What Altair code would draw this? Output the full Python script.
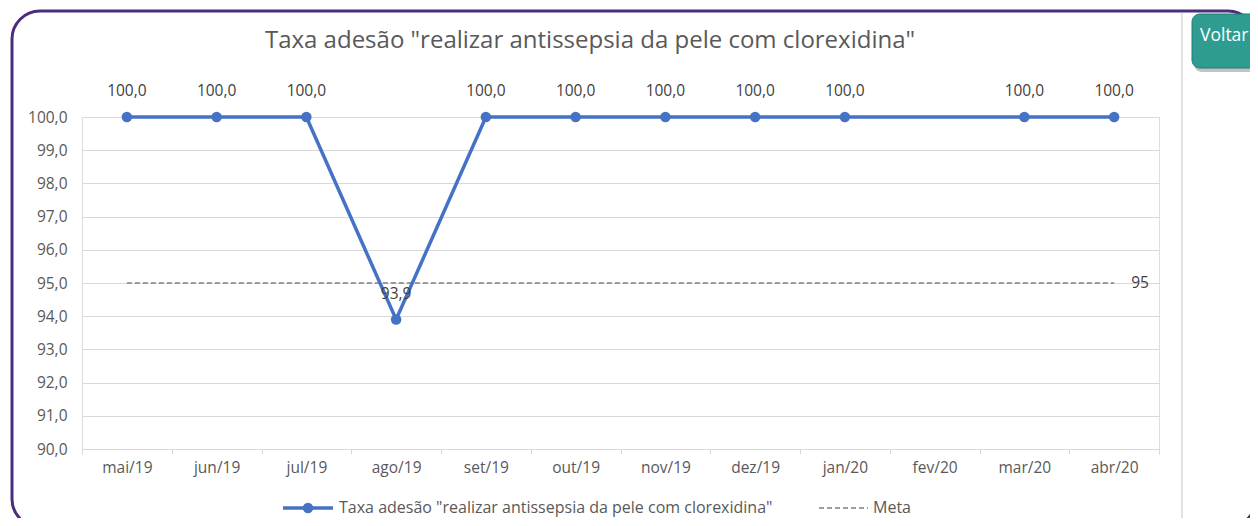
import altair as alt
import pandas as pd

months = ["mai/19", "jun/19", "jul/19", "ago/19", "set/19", "out/19",
          "nov/19", "dez/19", "jan/20", "fev/20", "mar/20", "abr/20"]
taxa = [100.0, 100.0, 100.0, 93.9, 100.0, 100.0, 100.0, 100.0, 100.0, None, 100.0, 100.0]
meta = [95.0] * len(months)
y_ticks = [90, 91, 92, 93, 94, 95, 96, 97, 98, 99, 100]
series_name = 'Taxa adesão "realizar antissepsia da pele com clorexidina"'
meta_name = "Meta"
title_text = 'Taxa adesão "realizar antissepsia da pele com clorexidina"'

FONT = "Open Sans"
GRAY = "#595959"
BLUE = "#4472C4"
LBL = 15.5

df = pd.DataFrame({"mes": months, "taxa": taxa, "meta": meta})
df["rotulo"] = [None if v is None or pd.isna(v) else f"{v:.1f}".replace(".", ",") for v in df["taxa"]]
one = pd.DataFrame({"k": [0]})

xaxis = alt.Axis(title=None, labelAngle=0, domainColor="#D9D9D9", tickColor="#D9D9D9",
                 tickSize=5, tickBand="extent", labelPadding=6, labelFontSize=LBL,
                 labelColor=GRAY, labelFont=FONT, grid=False)
xscale = alt.Scale(domain=months, paddingInner=0, paddingOuter=0)
yaxis = alt.Axis(title=None, values=y_ticks, tickCount=11, ticks=False, domain=False,
                 labelOverlap=False, labelPadding=15, labelFontSize=LBL, labelColor=GRAY,
                 labelFont=FONT, gridColor="#D9D9D9",
                 labelExpr="replace(format(datum.value, '.1f'), '.', ',')")
yscale = alt.Scale(domain=[90, 100], nice=False, zero=False)


def X():
    return alt.X("mes:N", sort=months, scale=xscale, axis=xaxis)


def Y(f):
    return alt.Y(f"{f}:Q", scale=yscale, axis=yaxis)


base = alt.Chart(df)

meta_line = base.mark_line(color="#7F7F7F", strokeDash=[5, 3], strokeWidth=1.4).encode(
    x=X(), y=Y("meta"))
meta_lbl = base.transform_filter(alt.datum.mes == months[-1]).mark_text(
    align="left", baseline="middle", dx=17, fontSize=LBL, color="#404040", font=FONT).encode(
    x=X(), y=Y("meta"), text=alt.Text("meta:Q", format=".0f"))

valid = base.transform_filter("isValid(datum.taxa)")
line = valid.mark_line(color=BLUE, strokeWidth=3.5).encode(x=X(), y=Y("taxa"))
pts = valid.mark_point(filled=True, size=110, color=BLUE, opacity=1).encode(x=X(), y=Y("taxa"))
lbls = valid.mark_text(dy=-26, fontSize=LBL, color="#404040", font=FONT).encode(
    x=X(), y=Y("taxa"), text="rotulo:N")

deco = alt.Chart(one)
frame = deco.mark_rect(fill=None, stroke="#4B2C7D", strokeWidth=3, cornerRadius=28).encode(
    x=alt.value(-70), x2=alt.value(1174), y=alt.value(-106), y2=alt.value(410))
sep = deco.mark_rule(color="#D9D9D9", strokeWidth=1.5).encode(
    x=alt.value(1100), y=alt.value(-104), y2=alt.value(410))
shadow = deco.mark_rect(fill="#7a7a7a", opacity=0.45, cornerRadius=8).encode(
    x=alt.value(1112), x2=alt.value(1180), y=alt.value(-100), y2=alt.value(-45))
btn = deco.mark_rect(fill="#2E9C90", stroke="#1f7d73", strokeWidth=1, cornerRadius=8).encode(
    x=alt.value(1110), x2=alt.value(1180), y=alt.value(-103), y2=alt.value(-49))
btn_txt = deco.mark_text(align="left", baseline="middle", fontSize=17.5, color="white", font=FONT).encode(
    x=alt.value(1118), y=alt.value(-81), text=alt.value("Voltar"))
title = deco.mark_text(align="center", baseline="middle", fontSize=24, color=GRAY, font=FONT).encode(
    x=alt.value(508), y=alt.value(-76), text=alt.value(title_text))

LY = 391
leg_line = deco.mark_rule(color=BLUE, strokeWidth=3.5).encode(
    x=alt.value(201), x2=alt.value(251), y=alt.value(LY))
leg_pt = deco.mark_point(filled=True, size=110, color=BLUE, opacity=1).encode(
    x=alt.value(226), y=alt.value(LY))
leg_txt1 = deco.mark_text(align="left", baseline="middle", fontSize=16, color=GRAY, font=FONT).encode(
    x=alt.value(257), y=alt.value(LY), text=alt.value(series_name))
leg_dash = deco.mark_rule(color="#7F7F7F", strokeDash=[5, 3], strokeWidth=1.4).encode(
    x=alt.value(737), x2=alt.value(786), y=alt.value(LY))
leg_txt2 = deco.mark_text(align="left", baseline="middle", fontSize=16, color=GRAY, font=FONT).encode(
    x=alt.value(791), y=alt.value(LY), text=alt.value(meta_name))

chart = alt.layer(
    frame, sep, meta_line, line, pts, lbls, meta_lbl, title,
    leg_line, leg_pt, leg_txt1, leg_dash, leg_txt2, shadow, btn, btn_txt
).resolve_scale(x="shared", y="shared").properties(
    width=1077, height=332,
    autosize=alt.AutoSizeParams(type="none"),
    padding={"left": 74, "top": 109, "right": 91, "bottom": 69},
).configure_view(stroke=None).configure(background="white")

chart.save("out.html", embed_options={"renderer": "svg", "actions": False})
